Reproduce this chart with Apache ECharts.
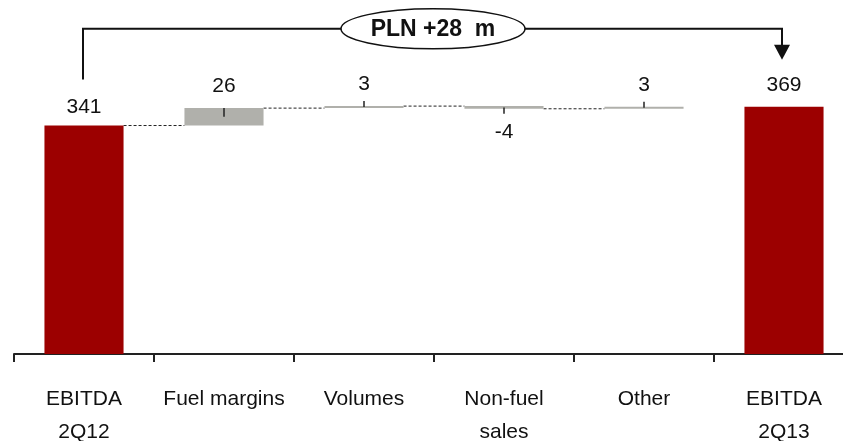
<!DOCTYPE html>
<html>
<head>
<meta charset="utf-8">
<script src="https://cdn.jsdelivr.net/npm/echarts@6/dist/echarts.min.js"></script>
<style>html,body{margin:0;padding:0;background:#fff}#c{width:843px;height:441px}</style>
</head>
<body>
<div id="c"></div>
<script>
// ---- data ----
var categories = ['EBITDA\n2Q12', 'Fuel margins', 'Volumes', 'Non-fuel\nsales', 'Other', 'EBITDA\n2Q13'];
var startValue = 341;
var changes = [26, 3, -4, 3];
var endValue = 369;

// ---- derived ----
var FONT = "'Liberation Sans', Arial, sans-serif";
var RED = '#9c0000', GRAY = '#b0b0ab';
var baseData = [0], barData = [], levels = [];
barData.push({value: startValue, itemStyle: {color: RED}, label: {position: 'top', distance: 8, formatter: String(startValue)}});
var cum = startValue;
levels.push([0, cum]);
changes.forEach(function (d, i) {
  var lo = d >= 0 ? cum : cum + d;
  baseData.push(lo);
  barData.push({value: Math.abs(d), itemStyle: {color: GRAY},
    label: {position: d >= 0 ? 'top' : 'bottom', distance: d >= 0 ? 11 : 13, formatter: String(d)}});
  cum += d;
  levels.push([i + 1, cum]);
});
baseData.push(0);
barData.push({value: endValue, itemStyle: {color: RED}, label: {position: 'top', distance: 11, formatter: String(endValue)}});
var tickData = changes.map(function (d, i) { return [i + 1, baseData[i + 1], baseData[i + 1] + Math.abs(d), d]; });
var BARW = 0.565;

var chart = echarts.init(document.getElementById('c'));
chart.setOption({
  animation: false,
  grid: {left: 14, top: 19, width: 840, height: 335, containLabel: false, outerBoundsMode: 'none'},
  xAxis: {
    type: 'category', data: categories, boundaryGap: true,
    axisLine: {show: true, lineStyle: {color: '#222', width: 2}},
    axisTick: {show: true, alignWithLabel: false, interval: 0, length: 8, lineStyle: {color: '#222', width: 2}},
    axisLabel: {color: '#111', fontFamily: FONT, fontSize: 21, lineHeight: 33, margin: 29, interval: 0}
  },
  yAxis: {type: 'value', min: 0, max: 500, show: false, splitLine: {show: false}},
  series: [
    {type: 'bar', stack: 'w', data: baseData, barWidth: (BARW * 100) + '%', itemStyle: {color: 'transparent'}, silent: true},
    {type: 'bar', stack: 'w', data: barData, barWidth: (BARW * 100) + '%',
      label: {show: true, color: '#111', fontFamily: FONT, fontSize: 21}},
    {type: 'custom', clip: false, silent: true, data: levels.slice(0, levels.length - 1),
      renderItem: function (params, api) {
        var p = api.coord([api.value(0), api.value(1)]);
        var half = api.size([1, 0])[0] * BARW / 2;
        var band = api.size([1, 0])[0];
        return {type: 'line', shape: {x1: p[0] + half, y1: p[1], x2: p[0] + band - half, y2: p[1]},
          style: {stroke: '#222', lineWidth: 1, lineDash: [3, 2]}};
      }},
    {type: 'custom', clip: false, silent: true, data: tickData, z: 5,
      renderItem: function (params, api) {
        var lo = api.coord([api.value(0), api.value(1)]);
        var hi = api.coord([api.value(0), api.value(2)]);
        var d = api.value(3);
        var h = lo[1] - hi[1];
        var cy = (lo[1] + hi[1]) / 2;
        var y1, y2;
        if (h >= 10) { y1 = cy; y2 = d >= 0 ? hi[1] : lo[1]; }
        else { y1 = cy; y2 = d >= 0 ? hi[1] - 5 : lo[1] + 5; }
        return {type: 'line', shape: {x1: lo[0], y1: y1, x2: lo[0], y2: y2}, style: {stroke: '#222', lineWidth: 1.5}};
      }},
    {type: 'custom', clip: false, silent: true, z: 10,
      data: [[0, startValue, categories.length - 1, endValue]],
      renderItem: function (params, api) {
        var a = api.coord([api.value(0), api.value(1)]);
        var b = api.coord([api.value(2), api.value(3)]);
        var topY = b[1] - 78;
        var leftEnd = a[1] - 46;
        var tipY = b[1] - 47;
        var cx = (a[0] + b[0]) / 2 - 1;
        var delta = api.value(3) - api.value(1);
        var st = {stroke: '#111', lineWidth: 2, fill: null};
        return {type: 'group', children: [
          {type: 'polyline', shape: {points: [[a[0] - 1, leftEnd], [a[0] - 1, topY], [b[0] - 2, topY], [b[0] - 2, tipY - 14]]}, style: st},
          {type: 'polygon', shape: {points: [[b[0] - 10, tipY - 15], [b[0] + 6, tipY - 15], [b[0] - 2, tipY]]}, style: {fill: '#111'}},
          {type: 'ellipse', shape: {cx: cx, cy: topY, rx: 92, ry: 20}, style: {fill: '#fff', stroke: '#111', lineWidth: 1.5}},
          {type: 'text', x: cx, y: topY + 1, style: {text: 'PLN +' + delta + '  m', fill: '#111', font: 'bold 23px ' + FONT, align: 'center', verticalAlign: 'middle'}}
        ]};
      }}
  ]
});
</script>
</body>
</html>
